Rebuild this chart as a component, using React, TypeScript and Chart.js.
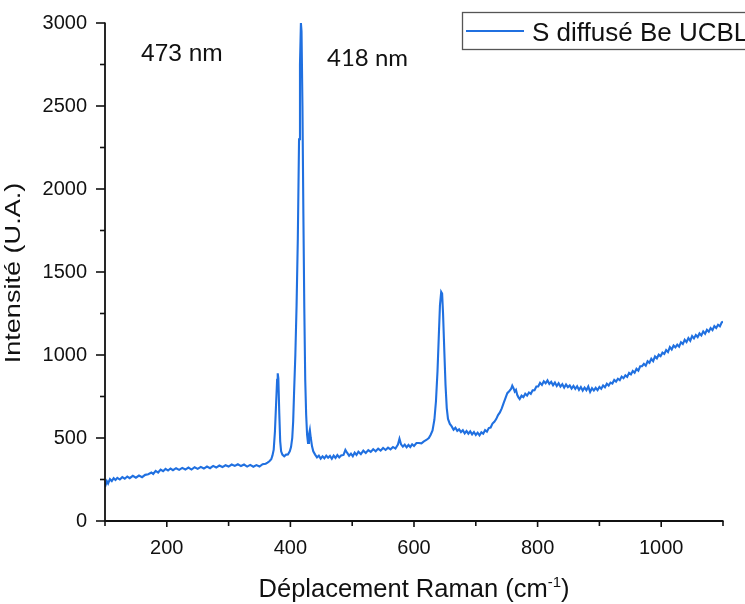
import React, { useEffect, useRef } from "react";
import { Chart, registerables } from "chart.js";

Chart.register(...registerables);

// Raman shift (cm-1)
const ramanShift = [
  100, 103, 105, 108, 111, 114, 117, 120, 124, 128, 132, 136, 140, 145, 150, 155, 160, 165, 170, 175,
  178, 182, 186, 190, 194, 198, 202, 206, 210, 215, 220, 225, 230, 235, 240, 245, 250, 255, 260, 265,
  270, 275, 280, 285, 290, 295, 300, 305, 310, 315, 320, 325, 330, 335, 340, 345, 350, 355, 360, 363,
  366, 369, 371, 373, 375, 377, 378.5, 379.5, 380.5, 382, 383.5, 385, 387, 390, 393, 396, 399, 401, 403, 404.5,
  406, 408, 410, 412, 414, 415.5, 417, 418, 419.5, 421, 422.5, 424, 425.5, 427, 428.5, 430, 431.5, 433, 435, 437,
  440, 443, 446, 449, 452, 455, 458, 461, 464, 467, 470, 473, 476, 479, 482, 486, 489, 492, 495, 498,
  501, 504, 507, 510, 514, 518, 522, 526, 530, 534, 538, 542, 546, 550, 554, 558, 562, 566, 570, 574,
  576.5, 579, 582, 585, 588, 591, 594, 597, 600, 604, 608, 612, 616, 620, 624, 627, 630, 633, 635.5, 638,
  640, 642, 644, 645.5, 647, 649, 651, 653, 655, 658, 661, 664, 667, 670, 673, 676, 679, 682, 685, 688,
  691, 694, 697, 700, 703, 706, 709, 712, 715, 718, 721, 724, 727, 730, 733, 736, 739, 742, 745, 748,
  751, 754, 757, 759, 761, 763, 765, 767, 769, 771, 774, 777, 780, 783, 786, 789, 792, 795, 798, 801,
  804, 807, 810, 813, 816, 819, 822, 825, 828, 831, 834, 837, 840, 843, 846, 849, 852, 855, 858, 861,
  864, 867, 870, 873, 876, 879, 882, 885, 888, 891, 894, 897, 900, 903, 906, 909, 912, 915, 918, 921,
  924, 927, 930, 933, 936, 939, 942, 945, 948, 951, 954, 957, 960, 963, 966, 969, 972, 975, 978, 981,
  984, 987, 990, 993, 996, 999, 1002, 1005, 1008, 1011, 1014, 1017, 1020, 1023, 1026, 1029, 1032, 1035, 1038, 1041,
  1044, 1047, 1050, 1053, 1056, 1059, 1062, 1065, 1068, 1071, 1074, 1077, 1080, 1083, 1086, 1089, 1092, 1095, 1098, 1100,
];

// Intensity (U.A.)
const intensity = [
  205, 240, 226, 252, 241, 258, 247, 260, 250, 264, 255, 268, 258, 272, 261, 274, 264, 278, 282, 292,
  283, 302, 292, 310, 300, 314, 304, 316, 306, 318, 308, 320, 310, 322, 310, 324, 314, 326, 316, 328,
  318, 332, 322, 334, 325, 336, 328, 340, 332, 342, 331, 340, 328, 338, 327, 337, 328, 342, 345, 352,
  360, 372, 395, 430, 540, 720, 850, 890, 860, 650, 480, 420, 400, 390, 400, 401, 420, 445, 500, 600,
  780, 1000, 1300, 1700, 2300, 2750, 3000, 2950, 2500, 1850, 1280, 850, 640, 520, 470, 520, 548, 500, 450, 420,
  400, 383, 394, 376, 390, 378, 394, 381, 392, 375, 394, 380, 397, 383, 395, 398, 428, 410, 393, 406,
  390, 412, 398, 417, 403, 424, 410, 427, 416, 432, 420, 436, 424, 440, 428, 442, 432, 446, 436, 460,
  495, 462, 448, 460, 444, 458, 446, 462, 452, 470, 470, 468, 480, 488, 500, 520, 545, 610, 720, 900,
  1100, 1300, 1380, 1370, 1250, 1030, 820, 680, 615, 585, 570, 550, 562, 543, 552, 536, 547, 528, 542, 526,
  540, 522, 536, 518, 532, 516, 534, 526, 547, 538, 560, 563, 587, 598, 614, 638, 654, 678, 710, 740,
  770, 782, 795, 815, 800, 780, 790, 760, 745, 735, 755, 746, 767, 756, 774, 766, 787, 788, 810, 810,
  832, 820, 842, 830, 847, 826, 838, 818, 834, 813, 830, 810, 824, 803, 822, 806, 817, 798, 814, 796,
  812, 790, 807, 786, 804, 788, 810, 778, 800, 786, 802, 788, 807, 796, 817, 806, 827, 816, 834, 828,
  850, 840, 857, 848, 870, 860, 877, 868, 892, 883, 904, 893, 917, 906, 932, 933, 947, 936, 962, 953,
  977, 963, 992, 980, 1002, 993, 1014, 1006, 1030, 1018, 1047, 1033, 1057, 1046, 1062, 1050, 1077, 1066, 1092, 1078,
  1102, 1086, 1114, 1100, 1120, 1108, 1130, 1118, 1142, 1128, 1152, 1140, 1162, 1150, 1174, 1163, 1182, 1173, 1197, 1200,
];

const seriesLabel = "S diffusé Be UCBL";
const xLabelValues = [200, 400, 600, 800, 1000];
const yLabelValues = [0, 500, 1000, 1500, 2000, 2500, 3000];
const xTitle = "Déplacement Raman (cm";
const xTitleSup = "-1";
const yTitle = "Intensité (U.A.)";
const notes = [
  { text: "473 nm", x: 141, y: 61, font: "24.5px 'Liberation Sans', Arial, sans-serif" },
  { text: "418 nm", x: 327, y: 66, font: "24px Lato, 'Noto Sans', sans-serif" },
];

const LINE_COLOR = "#2070e0";
const AXIS_COLOR = "#111111";
const SANS = "'Liberation Sans', Arial, sans-serif";

const axesPlugin = {
  id: "originStyleAxes",
  afterDraw(chart: any) {
    const { ctx, chartArea: a } = chart;
    const xs = chart.scales.x;
    const ys = chart.scales.y;
    ctx.save();

    // axis lines (left and bottom)
    ctx.strokeStyle = AXIS_COLOR;
    ctx.lineWidth = 1.8;
    ctx.beginPath();
    ctx.moveTo(a.left, a.top - 0.5);
    ctx.lineTo(a.left, a.bottom);
    ctx.lineTo(a.right + 0.5, a.bottom);
    ctx.stroke();

    // y tick marks
    ctx.lineWidth = 1.6;
    for (const t of ys.ticks) {
      const py = ys.getPixelForValue(t.value);
      const major = yLabelValues.includes(t.value);
      ctx.beginPath();
      ctx.moveTo(a.left, py);
      ctx.lineTo(a.left - (major ? 9 : 5), py);
      ctx.stroke();
    }
    // x tick marks
    for (const t of xs.ticks) {
      const px = xs.getPixelForValue(t.value);
      const major = xLabelValues.includes(t.value);
      ctx.beginPath();
      ctx.moveTo(px, a.bottom);
      ctx.lineTo(px, a.bottom + (major ? 6 : 5));
      ctx.stroke();
    }

    // tick labels
    ctx.fillStyle = AXIS_COLOR;
    ctx.font = `20px ${SANS}`;
    ctx.textAlign = "right";
    ctx.textBaseline = "middle";
    for (const v of yLabelValues) {
      ctx.fillText(String(v), a.left - 18, ys.getPixelForValue(v) + 0.5);
    }
    ctx.textAlign = "center";
    ctx.textBaseline = "alphabetic";
    for (const v of xLabelValues) {
      ctx.fillText(String(v), xs.getPixelForValue(v), a.bottom + 33);
    }

    // x title with superscript
    ctx.font = `25.5px ${SANS}`;
    const mainW = ctx.measureText(xTitle).width;
    ctx.font = `15px ${SANS}`;
    const supW = ctx.measureText(xTitleSup).width;
    ctx.font = `25.5px ${SANS}`;
    const closeW = ctx.measureText(")").width;
    const total = mainW + supW + closeW;
    let tx = (a.left + a.right) / 2 - total / 2;
    const tby = a.bottom + 76;
    ctx.textAlign = "left";
    ctx.fillText(xTitle, tx, tby);
    tx += mainW;
    ctx.font = `15px ${SANS}`;
    ctx.fillText(xTitleSup, tx, tby - 10);
    tx += supW;
    ctx.font = `25.5px ${SANS}`;
    ctx.fillText(")", tx, tby);

    // y title, rotated
    ctx.save();
    ctx.translate(19.5, (a.top + a.bottom) / 2 + 1);
    ctx.rotate(-Math.PI / 2);
    ctx.scale(1.26, 1);
    ctx.font = `21.5px ${SANS}`;
    ctx.textAlign = "center";
    ctx.textBaseline = "alphabetic";
    ctx.fillText(yTitle, 0, 0);
    ctx.restore();

    // annotations
    ctx.textAlign = "left";
    for (const n of notes) {
      ctx.font = n.font;
      ctx.fillText(n.text, n.x, n.y);
    }

    // legend
    const ds = chart.data.datasets[0];
    ctx.strokeStyle = "#555555";
    ctx.lineWidth = 1.3;
    ctx.strokeRect(462.5, 12.5, 320, 37);
    ctx.strokeStyle = ds.borderColor;
    ctx.lineWidth = 2;
    ctx.beginPath();
    ctx.moveTo(466, 31);
    ctx.lineTo(524, 31);
    ctx.stroke();
    ctx.fillStyle = AXIS_COLOR;
    ctx.font = `26px ${SANS}`;
    ctx.fillText(ds.label, 532, 41);

    ctx.restore();
  },
};

export default function App() {
  const canvasRef = useRef<HTMLCanvasElement | null>(null);

  useEffect(() => {
    const canvas = canvasRef.current;
    if (!canvas) return;
    const chart = new Chart(canvas, {
      type: "line",
      data: {
        datasets: [
          {
            label: seriesLabel,
            data: ramanShift.map((x, i) => ({ x, y: intensity[i] })),
            borderColor: LINE_COLOR,
            borderWidth: 2.1,
            pointRadius: 0,
            tension: 0,
            fill: false,
          },
        ],
      },
      options: {
        responsive: false,
        animation: false,
        devicePixelRatio: 1,
        layout: { padding: { top: 23, right: 22, left: 0, bottom: 0 } },
        plugins: {
          legend: { display: false },
          tooltip: { enabled: false },
        },
        scales: {
          x: {
            type: "linear",
            min: 100,
            max: 1100,
            ticks: { stepSize: 100, display: false, autoSkip: false },
            grid: { display: false, drawTicks: false },
            border: { display: false },
            afterFit: (s: any) => {
              s.height = 83;
            },
          },
          y: {
            type: "linear",
            min: 0,
            max: 3000,
            ticks: { stepSize: 250, display: false, autoSkip: false },
            grid: { display: false, drawTicks: false },
            border: { display: false },
            afterFit: (s: any) => {
              s.width = 105;
            },
          },
        },
      },
      plugins: [axesPlugin],
    });
    return () => chart.destroy();
  }, []);

  return (
    <div style={{ position: "absolute", left: 0, top: 0, width: 745, height: 604, background: "#ffffff" }}>
      <canvas ref={canvasRef} width={745} height={604} style={{ display: "block" }} />
    </div>
  );
}
